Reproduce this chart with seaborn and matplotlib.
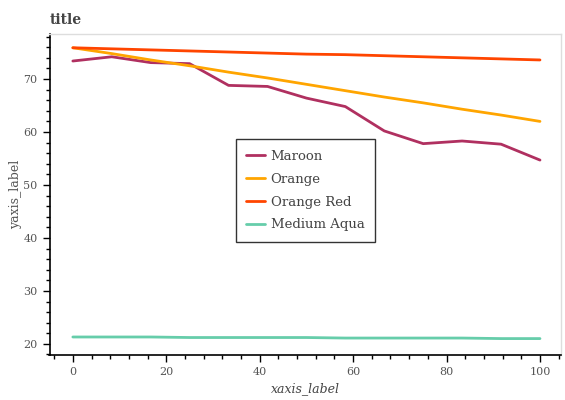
import matplotlib
matplotlib.use("Agg")
import matplotlib.pyplot as plt
import seaborn as sns
import pandas as pd
from matplotlib.ticker import MultipleLocator

x_values = [0, 8.33, 16.67, 25, 33.33, 41.67, 50, 58.33, 66.67, 75, 83.33, 91.67, 100]
maroon = [73.4, 74.2, 73.1, 72.9, 68.8, 68.6, 66.4, 64.8, 60.2, 57.8, 58.3, 57.7, 54.7]
orange = [75.9, 74.8, 73.6, 72.5, 71.3, 70.2, 69.0, 67.8, 66.6, 65.5, 64.3, 63.2, 62.0]
orange_red = [75.9, 75.7, 75.5, 75.3, 75.1, 74.9, 74.7, 74.6, 74.4, 74.2, 74.0, 73.8, 73.6]
medium_aqua = [21.3, 21.3, 21.3, 21.2, 21.2, 21.2, 21.2, 21.1, 21.1, 21.1, 21.1, 21.0, 21.0]
series_names = ["Maroon", "Orange", "Orange Red", "Medium Aqua"]
colors = ["#b03060", "#ffa500", "#ff4500", "#66cdaa"]

rows = []
for name, vals in zip(series_names, [maroon, orange, orange_red, medium_aqua]):
    for xv, yv in zip(x_values, vals):
        rows.append({"x": xv, "y": yv, "series": name})
df = pd.DataFrame(rows)

sns.set_style("white")
plt.rcParams['font.family'] = ['DejaVu Serif']

fig = plt.figure(figsize=(5.65, 4.0), dpi=100)
ax = fig.add_axes([49.5 / 565, 1 - 355 / 400, (561 - 49.5) / 565, (355 - 34) / 400])

sns.lineplot(data=df, x="x", y="y", hue="series", palette=colors,
             hue_order=series_names, linewidth=2, ax=ax)

ax.set_xlim(-5, 104.5)
ax.set_ylim(17.9, 78.5)
ax.xaxis.set_major_locator(MultipleLocator(20))
ax.xaxis.set_minor_locator(MultipleLocator(4))
ax.yaxis.set_major_locator(MultipleLocator(10))
ax.yaxis.set_minor_locator(MultipleLocator(2))

ax.tick_params(axis="both", which="major", length=5, width=1, color="black",
               labelcolor="#555555", labelsize=8, direction="out",
               bottom=True, left=True)
ax.tick_params(axis="both", which="minor", length=3, width=1, color="black",
               direction="out", bottom=True, left=True)

for s in ["left", "bottom"]:
    ax.spines[s].set_color("black")
    ax.spines[s].set_linewidth(1.2)
for s in ["top", "right"]:
    ax.spines[s].set_color("#dddddd")
    ax.spines[s].set_linewidth(1)

ax.set_xlabel("xaxis_label", fontstyle="italic", color="#444444", fontsize=9)
ax.set_ylabel("yaxis_label", color="#555555", fontsize=9, labelpad=1)
ax.set_title("title", loc="left", fontweight="bold", color="#444444", fontsize=10, pad=7)

leg = ax.legend(loc="center", bbox_to_anchor=(0.5, 0.512), frameon=True, fontsize=9.5,
                borderpad=0.8, labelspacing=0.75, handlelength=1.4, handletextpad=0.45)
leg.get_frame().set_edgecolor("black")
leg.get_frame().set_linewidth(1)
leg.get_frame().set_boxstyle("square", pad=0)
for t in leg.get_texts():
    t.set_color("#444444")

fig.savefig("out.png", dpi=100)
